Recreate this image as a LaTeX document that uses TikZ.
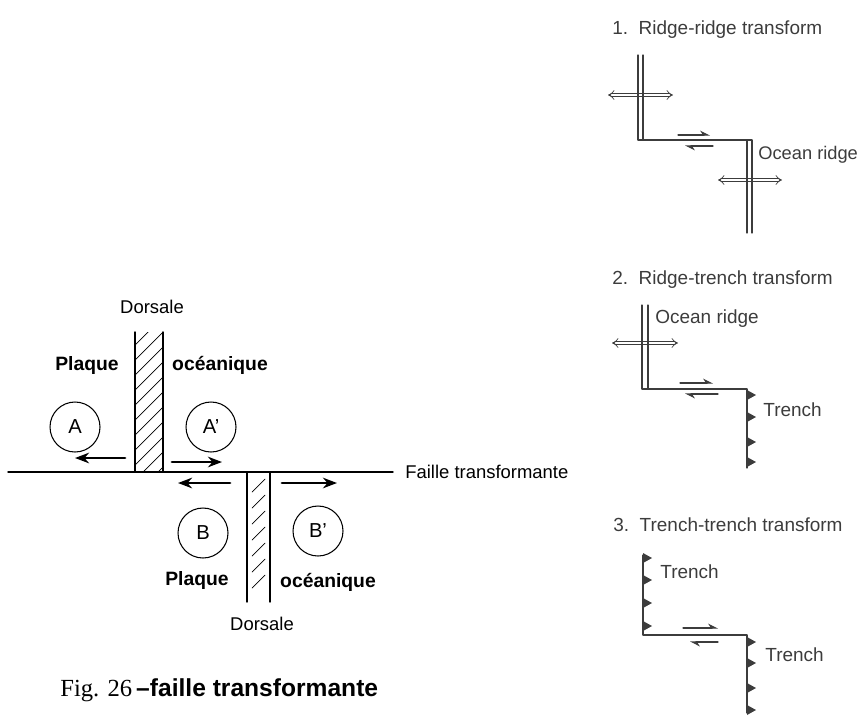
\documentclass[tikz,border=0pt]{standalone}
\usepackage{fontspec}
\setmainfont{Liberation Sans}
\newfontfamily\capserif{Liberation Serif}
\usetikzlibrary{arrows.meta}
\definecolor{ink}{HTML}{3C3C3C}
\begin{document}
\begin{tikzpicture}[x=0.02cm, y=-0.02cm, line join=round, line cap=round,
  fault/.style={line width=0.8pt},
  plate/.style={font=\fontsize{11}{12}\selectfont\bfseries},
  lbl/.style={font=\fontsize{10.5}{12}\selectfont},
  disc/.style={draw, circle, line width=0.6pt, minimum size=1cm, inner sep=0pt, font=\fontsize{11.5}{12}\selectfont},
  move/.style={line width=1.6pt, -{Stealth[length=8pt,width=6pt]}},
  rtxt/.style={ink, font=\fontsize{10.8}{12}\selectfont, anchor=west, inner sep=0pt},
  ridge/.style={ink, line width=0.6pt},
  spread/.style={ink, double, double distance=1.5pt, line width=0.4pt, {Implies}-{Implies}},
  shear/.style={ink, line width=0.6pt, -{Stealth[harpoon,length=5pt,width=5pt]}}]
\useasboundingbox (0,0) rectangle (861,721);

% faille transformante (gauche)
\draw[fault] (8,472) -- (393,472);
\node[lbl, anchor=west, inner sep=0pt] (faille) at (405,472) {Faille transformante};
\begin{scope}
  \clip (135,332) rectangle (163,472);
  \foreach \y in {345,360,...,510} \draw[line width=0.4pt] (135,\y) -- (163,\y-28);
\end{scope}
\draw[fault] (135,332) -- (135,472) (163,332) -- (163,472);
\foreach \y in {492,508,...,600} \draw[line width=0.4pt] (252,\y) -- (265,\y-13);
\draw[fault] (247,472) -- (247,602) (270,472) -- (270,602);
\path
(152,307) node[lbl] (dorsA) {Dorsale}
(87,365) node[plate] (plA) {Plaque}
(220,365) node[plate] (ocA) {océanique}
(75,427) node[disc] (A) {A}
(211,427) node[disc] (Ap) {A'}
(203,533) node[disc] (B) {B}
(318,531) node[disc] (Bp) {B'}
(197,580) node[plate] (plB) {Plaque}
(328,582) node[plate] (ocB) {océanique}
(262,624) node[lbl] (dorsB) {Dorsale};
\draw[move] (125,458) -- (75,458);
\draw[move] (172,462) -- (222,462);
\draw[move] (230,483) -- (178,483);
\draw[move] (282,483) -- (337,483);
\node[anchor=west, inner sep=0pt] (legende) at (60,690) {\capserif\fontsize{14}{16}\selectfont Fig. 26\,\sffamily\bfseries\fontspec{Liberation Sans}–faille transformante};

% 1. ridge-ridge
\node[rtxt] (t1) at (612,30) {1.\ \ Ridge-ridge transform};
\draw[spread] (608,95) -- (673,95);
\draw[spread] (718,180) -- (782,180);
\draw[ridge] (638,55) -- (638,140) -- (752,140) -- (752,233);
\draw[ridge] (643,55) -- (643,140) (747,140) -- (747,233);
\draw[shear] (678,135) -- (710,135);
\draw[shear] (713,146) -- (685,146);
\node[rtxt, font=\fontsize{10.4}{12}\selectfont] (or1) at (758,155) {Ocean ridge};

% 2. ridge-trench
\node[rtxt] (t2) at (612,280) {2.\ \ Ridge-trench transform};
\draw[spread] (612,343) -- (678,343);
\draw[ridge] (642,305) -- (642,389) -- (747,389) -- (747,468);
\draw[ridge] (648,305) -- (648,389);
\foreach \y in {395,417,442,462} \fill[ink] (747,\y-5) -- (756,\y) -- (747,\y+5) -- cycle;
\draw[shear] (680,383) -- (713,383);
\draw[shear] (718,394) -- (685,394);
\node[rtxt] (or2) at (655,319) {Ocean ridge};
\node[rtxt] (tr2) at (763,410) {Trench};

% 3. trench-trench
\node[rtxt] (t3) at (613,525) {3.\ \ Trench-trench transform};
\draw[ridge] (643,555) -- (643,635) -- (747,635) -- (747,713);
\foreach \y in {558,580,603,626} \fill[ink] (643,\y-5) -- (652,\y) -- (643,\y+5) -- cycle;
\foreach \y in {642,663,688,710} \fill[ink] (747,\y-5) -- (756,\y) -- (747,\y+5) -- cycle;
\draw[shear] (683,628) -- (718,628);
\draw[shear] (718,642) -- (690,642);
\node[rtxt] (tr3a) at (660,572) {Trench};
\node[rtxt] (tr3b) at (765,655) {Trench};
\end{tikzpicture}
\end{document}
